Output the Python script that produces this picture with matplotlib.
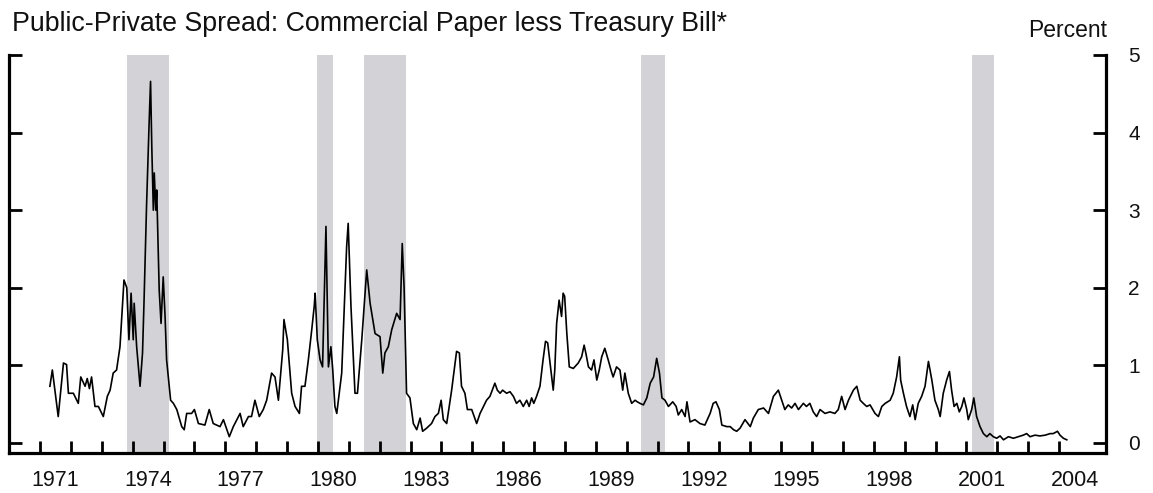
import matplotlib
matplotlib.use("Agg")
import matplotlib.pyplot as plt

plt.rcParams['font.family'] = ['Liberation Sans', 'DejaVu Sans']

title = "Public-Private Spread: Commercial Paper less Treasury Bill*"
unit_label = "Percent"

dates = [
    1971.32, 1971.40, 1971.59, 1971.76, 1971.86, 1971.92, 1972.08, 1972.24, 1972.32, 1972.46,
    1972.53, 1972.60, 1972.67, 1972.78, 1972.89, 1973.05, 1973.18, 1973.27, 1973.37, 1973.48,
    1973.59, 1973.72, 1973.81, 1973.88, 1973.95, 1974.02, 1974.05, 1974.13, 1974.24, 1974.32,
    1974.37, 1974.45, 1974.53, 1974.58, 1974.62, 1974.67, 1974.70, 1974.75, 1974.78, 1974.86,
    1974.92, 1974.99, 1975.05, 1975.10, 1975.23, 1975.32, 1975.43, 1975.59, 1975.67, 1975.75,
    1975.91, 1976.00, 1976.13, 1976.34, 1976.48, 1976.61, 1976.83, 1976.94, 1977.13, 1977.26,
    1977.48, 1977.58, 1977.75, 1977.85, 1977.96, 1978.10, 1978.23, 1978.34, 1978.50, 1978.61,
    1978.72, 1978.86, 1978.90, 1979.01, 1979.15, 1979.26, 1979.40, 1979.47, 1979.58, 1979.69,
    1979.80, 1979.88, 1979.91, 1979.98, 1980.07, 1980.15, 1980.26, 1980.34, 1980.42, 1980.48,
    1980.55, 1980.61, 1980.77, 1980.93, 1980.98, 1981.07, 1981.20, 1981.28, 1981.42, 1981.58,
    1981.69, 1981.85, 1982.01, 1982.10, 1982.17, 1982.28, 1982.39, 1982.55, 1982.66, 1982.73,
    1982.79, 1982.87, 1982.98, 1983.09, 1983.20, 1983.31, 1983.39, 1983.52, 1983.68, 1983.79,
    1983.90, 1983.99, 1984.06, 1984.17, 1984.33, 1984.49, 1984.58, 1984.65, 1984.76, 1984.84,
    1984.98, 1985.14, 1985.25, 1985.36, 1985.46, 1985.57, 1985.73, 1985.81, 1985.90, 1985.98,
    1986.11, 1986.22, 1986.33, 1986.43, 1986.54, 1986.65, 1986.76, 1986.84, 1986.92, 1986.99,
    1987.08, 1987.19, 1987.29, 1987.37, 1987.44, 1987.53, 1987.62, 1987.67, 1987.73, 1987.81,
    1987.89, 1987.94, 1987.99, 1988.06, 1988.14, 1988.27, 1988.43, 1988.54, 1988.62, 1988.68,
    1988.76, 1988.86, 1988.94, 1989.03, 1989.11, 1989.19, 1989.29, 1989.40, 1989.49, 1989.56,
    1989.67, 1989.78, 1989.87, 1989.94, 1990.05, 1990.16, 1990.27, 1990.34, 1990.43, 1990.54,
    1990.65, 1990.76, 1990.87, 1990.97, 1991.06, 1991.14, 1991.24, 1991.35, 1991.49, 1991.60,
    1991.67, 1991.78, 1991.89, 1991.95, 1992.05, 1992.21, 1992.37, 1992.53, 1992.70, 1992.80,
    1992.89, 1993.00, 1993.08, 1993.24, 1993.35, 1993.46, 1993.56, 1993.67, 1993.83, 1994.00,
    1994.10, 1994.26, 1994.43, 1994.59, 1994.75, 1994.91, 1995.02, 1995.12, 1995.23, 1995.34,
    1995.45, 1995.56, 1995.72, 1995.82, 1995.93, 1996.04, 1996.15, 1996.26, 1996.42, 1996.58,
    1996.74, 1996.85, 1996.96, 1997.07, 1997.18, 1997.34, 1997.45, 1997.56, 1997.66, 1997.77,
    1997.88, 1998.04, 1998.15, 1998.26, 1998.37, 1998.53, 1998.63, 1998.74, 1998.83, 1998.87,
    1998.96, 1999.06, 1999.17, 1999.26, 1999.34, 1999.44, 1999.55, 1999.66, 1999.77, 1999.88,
    1999.98, 2000.09, 2000.15, 2000.25, 2000.36, 2000.45, 2000.52, 2000.60, 2000.69, 2000.77,
    2000.85, 2000.92, 2001.01, 2001.06, 2001.17, 2001.24, 2001.33, 2001.44, 2001.55, 2001.66,
    2001.76, 2001.87, 2001.98, 2002.09, 2002.20, 2002.36, 2002.52, 2002.68, 2002.84, 2002.95,
    2003.06, 2003.22, 2003.38, 2003.55, 2003.71, 2003.81, 2003.95, 2004.03, 2004.14, 2004.25,
]

spread = [
    0.73, 0.94, 0.34, 1.03, 1.01, 0.64, 0.64, 0.51, 0.85, 0.73,
    0.83, 0.70, 0.85, 0.47, 0.47, 0.34, 0.60, 0.68, 0.90, 0.94,
    1.24, 2.10, 2.00, 1.33, 1.93, 1.33, 1.80, 1.24, 0.73, 1.16,
    1.84, 3.05, 4.08, 4.66, 3.82, 3.00, 3.48, 3.00, 3.26, 1.97,
    1.54, 2.14, 1.63, 1.07, 0.55, 0.51, 0.43, 0.21, 0.17, 0.38,
    0.38, 0.43, 0.25, 0.23, 0.43, 0.25, 0.21, 0.30, 0.08, 0.21,
    0.38, 0.21, 0.34, 0.34, 0.55, 0.34, 0.43, 0.55, 0.90, 0.85,
    0.55, 1.20, 1.59, 1.33, 0.64, 0.47, 0.38, 0.73, 0.73, 1.07,
    1.46, 1.76, 1.93, 1.33, 1.07, 0.98, 2.79, 0.98, 1.24, 0.94,
    0.47, 0.38, 0.90, 2.53, 2.83, 1.76, 0.64, 0.64, 1.33, 2.23,
    1.80, 1.41, 1.37, 0.90, 1.16, 1.24, 1.46, 1.67, 1.59, 2.57,
    2.01, 0.64, 0.58, 0.25, 0.17, 0.32, 0.15, 0.19, 0.25, 0.34,
    0.38, 0.55, 0.30, 0.25, 0.68, 1.18, 1.16, 0.73, 0.64, 0.43,
    0.43, 0.25, 0.38, 0.47, 0.55, 0.60, 0.77, 0.68, 0.64, 0.68,
    0.64, 0.66, 0.60, 0.51, 0.55, 0.47, 0.55, 0.47, 0.58, 0.51,
    0.60, 0.73, 1.07, 1.31, 1.29, 0.98, 0.68, 0.94, 1.54, 1.84,
    1.63, 1.93, 1.89, 1.41, 0.98, 0.96, 1.03, 1.11, 1.26, 1.15,
    0.98, 0.94, 1.07, 0.81, 0.94, 1.11, 1.22, 1.07, 0.94, 0.85,
    0.98, 0.94, 0.68, 0.90, 0.64, 0.51, 0.55, 0.53, 0.51, 0.49,
    0.58, 0.77, 0.85, 1.09, 0.90, 0.58, 0.55, 0.47, 0.53, 0.47,
    0.36, 0.43, 0.34, 0.53, 0.27, 0.30, 0.25, 0.23, 0.38, 0.51,
    0.53, 0.43, 0.23, 0.21, 0.21, 0.17, 0.15, 0.19, 0.30, 0.21,
    0.32, 0.43, 0.45, 0.38, 0.60, 0.68, 0.55, 0.43, 0.49, 0.45,
    0.51, 0.43, 0.51, 0.47, 0.51, 0.40, 0.34, 0.43, 0.38, 0.40,
    0.38, 0.43, 0.60, 0.43, 0.55, 0.68, 0.73, 0.55, 0.51, 0.47,
    0.49, 0.38, 0.34, 0.47, 0.51, 0.55, 0.64, 0.85, 1.11, 0.81,
    0.64, 0.47, 0.34, 0.49, 0.30, 0.51, 0.60, 0.73, 1.05, 0.81,
    0.55, 0.43, 0.34, 0.64, 0.81, 0.92, 0.68, 0.47, 0.51, 0.40,
    0.47, 0.58, 0.43, 0.30, 0.43, 0.58, 0.34, 0.21, 0.12, 0.08,
    0.12, 0.08, 0.06, 0.09, 0.04, 0.08, 0.06, 0.08, 0.10, 0.12,
    0.08, 0.10, 0.09, 0.10, 0.12, 0.12, 0.15, 0.10, 0.06, 0.04,
]

recession_starts = [1973.83, 1979.97, 1981.50, 1990.45, 2001.18]
recession_ends = [1975.17, 1980.50, 1982.85, 1991.23, 2001.90]

year_ticks = list(range(1971, 2005))
year_labels = ['1971', '1974', '1977', '1980', '1983', '1986', '1989', '1992',
               '1995', '1998', '2001', '2004']
y_ticks = [0, 1, 2, 3, 4, 5]

W, H = 1153, 493
fig = plt.figure(figsize=(W / 100, H / 100), dpi=100)
ax = fig.add_axes([8.5 / W, (H - 453) / H, (1106 - 8.5) / W, (453 - 55) / H])

for s, e in zip(recession_starts, recession_ends):
    ax.axvspan(s, e, color='#d3d3d7', lw=0, zorder=1)

ax.plot(dates, spread, color='black', lw=1.2, zorder=3)

ax.set_xlim(1969.98, 2005.52)
ax.set_ylim(-0.13, 5)

for side in ['left', 'right', 'bottom']:
    ax.spines[side].set_linewidth(2.3)
    ax.spines[side].set_color('black')
ax.spines['top'].set_visible(False)

ax.set_xticks(year_ticks)
ax.set_xticklabels([])
ax.set_xticks([int(l) + 0.5 for l in year_labels], minor=True)
ax.set_xticklabels(year_labels, minor=True)
ax.tick_params(axis='x', which='major', direction='in', length=8.6, width=2.0,
               color='black', bottom=True, top=False)
ax.tick_params(axis='x', which='minor', length=0, pad=12, labelsize=15.5,
               labelcolor='#111111')

ax.set_yticks(y_ticks)
ax.set_yticklabels([str(v) for v in y_ticks])
ax.set_yticks([5], minor=True)
ax.tick_params(axis='y', which='major', direction='in', length=9.5, width=2.0,
               left=True, right=True, labelleft=False, labelright=True,
               pad=16, labelsize=15, labelcolor='#111111')
ax.tick_params(axis='y', which='minor', direction='in', length=17.5, width=2.0,
               left=True, right=True, labelleft=False, labelright=False)

fig.text(12 / W, (H - 31) / H, title, fontsize=19.3, color='#111111',
         ha='left', va='baseline')
fig.text(1107 / W, (H - 37) / H, unit_label, fontsize=16.5, color='#111111',
         ha='right', va='baseline')

fig.savefig('out.png', dpi=100)
